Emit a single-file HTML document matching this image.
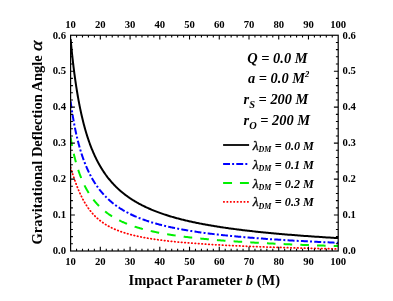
<!DOCTYPE html>
<html><head><meta charset="utf-8"><title>plot</title>
<style>
html,body{margin:0;padding:0;background:#fff;}
body{width:393px;height:301px;overflow:hidden;font-family:"Liberation Serif",serif;}
svg{display:block;will-change:transform;opacity:0.999;}
text{font-family:"Liberation Serif",serif;fill:#000;}
.tk{font-size:10.7px;font-weight:bold;}
.ax{font-size:14.5px;font-weight:bold;}
.an{font-size:14.4px;font-weight:bold;font-style:italic;}
.lg{font-size:12.2px;font-weight:bold;font-style:italic;}
</style></head><body>
<svg width="393" height="301" viewBox="0 0 393 301">
<rect width="393" height="301" fill="#fff"/>

<defs><clipPath id="cp"><rect x="70.60" y="35.25" width="267.60" height="215.75"/></clipPath></defs>
<g fill="none" stroke-width="2.0" stroke-linejoin="round" clip-path="url(#cp)">
<path d="M70.60 39.09 L70.77 40.94 L70.94 42.78 L71.12 44.59 L71.29 46.38 L71.47 48.14 L71.64 49.89 L71.82 51.61 L72.00 53.32 L72.18 55.00 L72.36 56.67 L72.54 58.32 L72.73 59.94 L72.91 61.55 L73.10 63.14 L73.28 64.71 L73.47 66.27 L73.66 67.80 L73.85 69.32 L74.04 70.83 L74.23 72.31 L74.42 73.78 L74.61 75.23 L74.81 76.67 L75.01 78.09 L75.20 79.50 L75.40 80.89 L75.60 82.26 L75.80 83.63 L76.00 84.97 L76.20 86.31 L76.41 87.62 L76.61 88.93 L76.82 90.22 L77.03 91.50 L77.24 92.76 L77.45 94.01 L77.66 95.25 L77.87 96.48 L78.08 97.69 L78.30 98.89 L78.51 100.08 L78.73 101.25 L78.95 102.42 L79.17 103.57 L79.39 104.71 L79.61 105.84 L79.84 106.96 L80.06 108.07 L80.29 109.17 L80.52 110.25 L80.75 111.33 L80.98 112.39 L81.21 113.45 L81.44 114.49 L81.67 115.53 L81.91 116.55 L82.15 117.57 L82.39 118.58 L82.63 119.57 L82.87 120.56 L83.11 121.54 L83.35 122.50 L83.60 123.46 L83.84 124.41 L84.09 125.35 L84.34 126.29 L84.59 127.21 L84.85 128.13 L85.10 129.03 L85.35 129.93 L85.61 130.82 L85.87 131.71 L86.13 132.58 L86.39 133.45 L86.65 134.31 L86.92 135.16 L87.18 136.00 L87.45 136.84 L87.72 137.67 L87.99 138.49 L88.26 139.31 L88.54 140.11 L88.81 140.91 L89.09 141.71 L89.37 142.49 L89.65 143.27 L89.93 144.04 L90.21 144.81 L90.50 145.57 L90.78 146.32 L91.07 147.07 L91.36 147.81 L91.65 148.54 L91.95 149.27 L92.24 149.99 L92.54 150.71 L92.84 151.42 L93.14 152.12 L93.44 152.82 L93.74 153.51 L94.05 154.20 L94.35 154.88 L94.66 155.55 L94.97 156.22 L95.28 156.88 L95.60 157.54 L95.91 158.19 L96.23 158.84 L96.55 159.48 L96.87 160.12 L97.20 160.75 L97.52 161.38 L97.85 162.00 L98.18 162.61 L98.51 163.23 L98.84 163.83 L99.18 164.43 L99.51 165.03 L99.85 165.62 L100.19 166.21 L100.53 166.79 L100.88 167.37 L101.23 167.94 L101.57 168.51 L101.92 169.08 L102.28 169.64 L102.63 170.19 L102.99 170.74 L103.35 171.29 L103.71 171.83 L104.07 172.37 L104.44 172.91 L104.80 173.44 L105.17 173.96 L105.54 174.49 L105.92 175.00 L106.29 175.52 L106.67 176.03 L107.05 176.53 L107.43 177.04 L107.82 177.53 L108.20 178.03 L108.59 178.52 L108.98 179.01 L109.38 179.49 L109.77 179.97 L110.17 180.45 L110.57 180.92 L110.97 181.39 L111.38 181.86 L111.78 182.32 L112.19 182.78 L112.60 183.23 L113.02 183.68 L113.43 184.13 L113.85 184.58 L114.27 185.02 L114.70 185.46 L115.12 185.89 L115.55 186.33 L115.98 186.76 L116.42 187.18 L116.85 187.60 L117.29 188.02 L117.73 188.44 L118.18 188.85 L118.62 189.27 L119.07 189.67 L119.52 190.08 L119.98 190.48 L120.44 190.88 L120.89 191.27 L121.36 191.67 L121.82 192.06 L122.29 192.45 L122.76 192.83 L123.23 193.21 L123.71 193.59 L124.19 193.97 L124.67 194.34 L125.15 194.71 L125.64 195.08 L126.13 195.45 L126.62 195.81 L127.11 196.17 L127.61 196.53 L128.11 196.89 L128.62 197.24 L129.12 197.59 L129.63 197.94 L130.14 198.29 L130.66 198.63 L131.18 198.97 L131.70 199.31 L132.22 199.65 L132.75 199.98 L133.28 200.31 L133.82 200.64 L134.35 200.97 L134.89 201.30 L135.43 201.62 L135.98 201.94 L136.53 202.26 L137.08 202.57 L137.64 202.89 L138.20 203.20 L138.76 203.51 L139.32 203.82 L139.89 204.12 L140.46 204.43 L141.04 204.73 L141.62 205.03 L142.20 205.33 L142.78 205.62 L143.37 205.92 L143.96 206.21 L144.56 206.50 L145.16 206.78 L145.76 207.07 L146.36 207.35 L146.97 207.64 L147.59 207.92 L148.20 208.19 L148.82 208.47 L149.45 208.74 L150.07 209.02 L150.70 209.29 L151.34 209.56 L151.97 209.82 L152.62 210.09 L153.26 210.35 L153.91 210.62 L154.56 210.88 L155.22 211.13 L155.88 211.39 L156.54 211.65 L157.21 211.90 L157.88 212.15 L158.56 212.40 L159.24 212.65 L159.92 212.90 L160.61 213.14 L161.30 213.39 L161.99 213.63 L162.69 213.87 L163.40 214.11 L164.10 214.35 L164.82 214.58 L165.53 214.82 L166.25 215.05 L166.97 215.28 L167.70 215.51 L168.44 215.74 L169.17 215.97 L169.91 216.19 L170.66 216.42 L171.41 216.64 L172.16 216.86 L172.92 217.08 L173.68 217.30 L174.45 217.52 L175.22 217.73 L175.99 217.95 L176.77 218.16 L177.56 218.37 L178.35 218.58 L179.14 218.79 L179.94 219.00 L180.74 219.21 L181.55 219.41 L182.36 219.62 L183.18 219.82 L184.00 220.02 L184.83 220.22 L185.66 220.42 L186.49 220.62 L187.33 220.82 L188.18 221.01 L189.03 221.21 L189.89 221.40 L190.75 221.59 L191.61 221.78 L192.48 221.97 L193.36 222.16 L194.24 222.35 L195.12 222.53 L196.01 222.72 L196.91 222.90 L197.81 223.08 L198.72 223.26 L199.63 223.45 L200.54 223.62 L201.47 223.80 L202.39 223.98 L203.33 224.16 L204.26 224.33 L205.21 224.51 L206.16 224.68 L207.11 224.85 L208.07 225.02 L209.03 225.19 L210.01 225.36 L210.98 225.53 L211.96 225.70 L212.95 225.86 L213.95 226.03 L214.94 226.19 L215.95 226.35 L216.96 226.52 L217.98 226.68 L219.00 226.84 L220.03 227.00 L221.06 227.16 L222.10 227.31 L223.15 227.47 L224.20 227.63 L225.26 227.78 L226.32 227.93 L227.39 228.09 L228.47 228.24 L229.55 228.39 L230.64 228.54 L231.74 228.69 L232.84 228.84 L233.95 228.99 L235.06 229.13 L236.19 229.28 L237.31 229.43 L238.45 229.57 L239.59 229.71 L240.73 229.86 L241.89 230.00 L243.05 230.14 L244.22 230.28 L245.39 230.42 L246.57 230.56 L247.76 230.70 L248.95 230.83 L250.15 230.97 L251.36 231.11 L252.58 231.24 L253.80 231.38 L255.03 231.51 L256.27 231.64 L257.51 231.78 L258.76 231.91 L260.02 232.04 L261.28 232.17 L262.56 232.30 L263.84 232.43 L265.12 232.56 L266.42 232.68 L267.72 232.81 L269.03 232.94 L270.35 233.06 L271.67 233.19 L273.00 233.31 L274.34 233.43 L275.69 233.56 L277.05 233.68 L278.41 233.80 L279.78 233.92 L281.16 234.04 L282.55 234.16 L283.94 234.28 L285.35 234.40 L286.76 234.52 L288.18 234.63 L289.61 234.75 L291.04 234.87 L292.49 234.98 L293.94 235.10 L295.40 235.21 L296.87 235.33 L298.35 235.44 L299.83 235.55 L301.33 235.66 L302.83 235.77 L304.34 235.89 L305.87 236.00 L307.40 236.11 L308.93 236.22 L310.48 236.33 L312.04 236.43 L313.60 236.54 L315.18 236.65 L316.76 236.76 L318.35 236.86 L319.96 236.97 L321.57 237.07 L323.19 237.18 L324.82 237.28 L326.46 237.39 L328.11 237.49 L329.76 237.59 L331.43 237.70 L333.11 237.80 L334.80 237.90 L336.49 238.00 L338.20 238.10" stroke="#000000"/>
<path d="M70.60 101.30 L70.77 102.58 L70.94 103.85 L71.12 105.10 L71.29 106.33 L71.47 107.55 L71.64 108.76 L71.82 109.95 L72.00 111.12 L72.18 112.29 L72.36 113.43 L72.54 114.57 L72.73 115.69 L72.91 116.80 L73.10 117.90 L73.28 118.98 L73.47 120.05 L73.66 121.11 L73.85 122.16 L74.04 123.19 L74.23 124.21 L74.42 125.23 L74.61 126.23 L74.81 127.22 L75.01 128.20 L75.20 129.17 L75.40 130.13 L75.60 131.08 L75.80 132.02 L76.00 132.95 L76.20 133.87 L76.41 134.78 L76.61 135.68 L76.82 136.58 L77.03 137.46 L77.24 138.34 L77.45 139.20 L77.66 140.06 L77.87 140.91 L78.08 141.75 L78.30 142.59 L78.51 143.41 L78.73 144.23 L78.95 145.04 L79.17 145.84 L79.39 146.63 L79.61 147.42 L79.84 148.20 L80.06 148.97 L80.29 149.74 L80.52 150.50 L80.75 151.25 L80.98 151.99 L81.21 152.73 L81.44 153.46 L81.67 154.19 L81.91 154.91 L82.15 155.62 L82.39 156.32 L82.63 157.02 L82.87 157.72 L83.11 158.41 L83.35 159.09 L83.60 159.76 L83.84 160.43 L84.09 161.10 L84.34 161.76 L84.59 162.41 L84.85 163.06 L85.10 163.70 L85.35 164.34 L85.61 164.97 L85.87 165.59 L86.13 166.21 L86.39 166.83 L86.65 167.44 L86.92 168.05 L87.18 168.65 L87.45 169.24 L87.72 169.83 L87.99 170.42 L88.26 171.00 L88.54 171.58 L88.81 172.15 L89.09 172.72 L89.37 173.28 L89.65 173.84 L89.93 174.39 L90.21 174.94 L90.50 175.49 L90.78 176.03 L91.07 176.57 L91.36 177.10 L91.65 177.63 L91.95 178.15 L92.24 178.67 L92.54 179.19 L92.84 179.70 L93.14 180.21 L93.44 180.71 L93.74 181.21 L94.05 181.71 L94.35 182.20 L94.66 182.69 L94.97 183.17 L95.28 183.66 L95.60 184.13 L95.91 184.61 L96.23 185.08 L96.55 185.54 L96.87 186.01 L97.20 186.47 L97.52 186.92 L97.85 187.37 L98.18 187.82 L98.51 188.27 L98.84 188.71 L99.18 189.15 L99.51 189.59 L99.85 190.02 L100.19 190.45 L100.53 190.87 L100.88 191.30 L101.23 191.72 L101.57 192.13 L101.92 192.54 L102.28 192.95 L102.63 193.36 L102.99 193.77 L103.35 194.17 L103.71 194.56 L104.07 194.96 L104.44 195.35 L104.80 195.74 L105.17 196.13 L105.54 196.51 L105.92 196.89 L106.29 197.27 L106.67 197.64 L107.05 198.01 L107.43 198.38 L107.82 198.75 L108.20 199.11 L108.59 199.47 L108.98 199.83 L109.38 200.19 L109.77 200.54 L110.17 200.89 L110.57 201.24 L110.97 201.58 L111.38 201.93 L111.78 202.27 L112.19 202.60 L112.60 202.94 L113.02 203.27 L113.43 203.60 L113.85 203.93 L114.27 204.25 L114.70 204.58 L115.12 204.90 L115.55 205.22 L115.98 205.53 L116.42 205.85 L116.85 206.16 L117.29 206.47 L117.73 206.77 L118.18 207.08 L118.62 207.38 L119.07 207.68 L119.52 207.98 L119.98 208.27 L120.44 208.57 L120.89 208.86 L121.36 209.15 L121.82 209.43 L122.29 209.72 L122.76 210.00 L123.23 210.28 L123.71 210.56 L124.19 210.84 L124.67 211.11 L125.15 211.39 L125.64 211.66 L126.13 211.93 L126.62 212.19 L127.11 212.46 L127.61 212.72 L128.11 212.98 L128.62 213.24 L129.12 213.50 L129.63 213.76 L130.14 214.01 L130.66 214.26 L131.18 214.51 L131.70 214.76 L132.22 215.01 L132.75 215.25 L133.28 215.49 L133.82 215.74 L134.35 215.98 L134.89 216.21 L135.43 216.45 L135.98 216.68 L136.53 216.92 L137.08 217.15 L137.64 217.38 L138.20 217.61 L138.76 217.83 L139.32 218.06 L139.89 218.28 L140.46 218.50 L141.04 218.72 L141.62 218.94 L142.20 219.16 L142.78 219.37 L143.37 219.59 L143.96 219.80 L144.56 220.01 L145.16 220.22 L145.76 220.43 L146.36 220.64 L146.97 220.84 L147.59 221.05 L148.20 221.25 L148.82 221.45 L149.45 221.65 L150.07 221.85 L150.70 222.04 L151.34 222.24 L151.97 222.43 L152.62 222.63 L153.26 222.82 L153.91 223.01 L154.56 223.20 L155.22 223.39 L155.88 223.57 L156.54 223.76 L157.21 223.94 L157.88 224.12 L158.56 224.30 L159.24 224.49 L159.92 224.66 L160.61 224.84 L161.30 225.02 L161.99 225.19 L162.69 225.37 L163.40 225.54 L164.10 225.71 L164.82 225.88 L165.53 226.05 L166.25 226.22 L166.97 226.39 L167.70 226.56 L168.44 226.72 L169.17 226.88 L169.91 227.05 L170.66 227.21 L171.41 227.37 L172.16 227.53 L172.92 227.69 L173.68 227.85 L174.45 228.00 L175.22 228.16 L175.99 228.31 L176.77 228.47 L177.56 228.62 L178.35 228.77 L179.14 228.92 L179.94 229.07 L180.74 229.22 L181.55 229.37 L182.36 229.52 L183.18 229.66 L184.00 229.81 L184.83 229.95 L185.66 230.09 L186.49 230.24 L187.33 230.38 L188.18 230.52 L189.03 230.66 L189.89 230.80 L190.75 230.94 L191.61 231.07 L192.48 231.21 L193.36 231.34 L194.24 231.48 L195.12 231.61 L196.01 231.74 L196.91 231.88 L197.81 232.01 L198.72 232.14 L199.63 232.27 L200.54 232.40 L201.47 232.52 L202.39 232.65 L203.33 232.78 L204.26 232.90 L205.21 233.03 L206.16 233.15 L207.11 233.28 L208.07 233.40 L209.03 233.52 L210.01 233.64 L210.98 233.76 L211.96 233.88 L212.95 234.00 L213.95 234.12 L214.94 234.24 L215.95 234.35 L216.96 234.47 L217.98 234.59 L219.00 234.70 L220.03 234.81 L221.06 234.93 L222.10 235.04 L223.15 235.15 L224.20 235.26 L225.26 235.38 L226.32 235.49 L227.39 235.60 L228.47 235.70 L229.55 235.81 L230.64 235.92 L231.74 236.03 L232.84 236.13 L233.95 236.24 L235.06 236.35 L236.19 236.45 L237.31 236.55 L238.45 236.66 L239.59 236.76 L240.73 236.86 L241.89 236.97 L243.05 237.07 L244.22 237.17 L245.39 237.27 L246.57 237.37 L247.76 237.47 L248.95 237.57 L250.15 237.66 L251.36 237.76 L252.58 237.86 L253.80 237.95 L255.03 238.05 L256.27 238.15 L257.51 238.24 L258.76 238.34 L260.02 238.43 L261.28 238.52 L262.56 238.62 L263.84 238.71 L265.12 238.80 L266.42 238.89 L267.72 238.98 L269.03 239.07 L270.35 239.16 L271.67 239.25 L273.00 239.34 L274.34 239.43 L275.69 239.52 L277.05 239.61 L278.41 239.70 L279.78 239.78 L281.16 239.87 L282.55 239.96 L283.94 240.04 L285.35 240.13 L286.76 240.21 L288.18 240.30 L289.61 240.38 L291.04 240.46 L292.49 240.55 L293.94 240.63 L295.40 240.71 L296.87 240.80 L298.35 240.88 L299.83 240.96 L301.33 241.04 L302.83 241.12 L304.34 241.20 L305.87 241.28 L307.40 241.36 L308.93 241.44 L310.48 241.52 L312.04 241.60 L313.60 241.68 L315.18 241.76 L316.76 241.83 L318.35 241.91 L319.96 241.99 L321.57 242.06 L323.19 242.14 L324.82 242.22 L326.46 242.29 L328.11 242.37 L329.76 242.44 L331.43 242.52 L333.11 242.59 L334.80 242.67 L336.49 242.74 L338.20 242.81" stroke="#0000ff" stroke-dasharray="6.98 2.18 1.97 2.23"/>
<path d="M70.60 137.43 L70.77 138.47 L70.94 139.48 L71.12 140.49 L71.29 141.48 L71.47 142.46 L71.64 143.42 L71.82 144.37 L72.00 145.31 L72.18 146.24 L72.36 147.15 L72.54 148.06 L72.73 148.95 L72.91 149.83 L73.10 150.70 L73.28 151.56 L73.47 152.41 L73.66 153.25 L73.85 154.08 L74.04 154.90 L74.23 155.71 L74.42 156.51 L74.61 157.30 L74.81 158.08 L75.01 158.85 L75.20 159.62 L75.40 160.37 L75.60 161.12 L75.80 161.86 L76.00 162.59 L76.20 163.31 L76.41 164.03 L76.61 164.73 L76.82 165.43 L77.03 166.13 L77.24 166.81 L77.45 167.49 L77.66 168.16 L77.87 168.83 L78.08 169.48 L78.30 170.13 L78.51 170.78 L78.73 171.42 L78.95 172.05 L79.17 172.67 L79.39 173.29 L79.61 173.91 L79.84 174.51 L80.06 175.11 L80.29 175.71 L80.52 176.30 L80.75 176.89 L80.98 177.46 L81.21 178.04 L81.44 178.61 L81.67 179.17 L81.91 179.73 L82.15 180.28 L82.39 180.83 L82.63 181.37 L82.87 181.91 L83.11 182.44 L83.35 182.97 L83.60 183.50 L83.84 184.01 L84.09 184.53 L84.34 185.04 L84.59 185.55 L84.85 186.05 L85.10 186.54 L85.35 187.04 L85.61 187.53 L85.87 188.01 L86.13 188.49 L86.39 188.97 L86.65 189.44 L86.92 189.91 L87.18 190.37 L87.45 190.83 L87.72 191.29 L87.99 191.74 L88.26 192.19 L88.54 192.64 L88.81 193.08 L89.09 193.51 L89.37 193.95 L89.65 194.38 L89.93 194.81 L90.21 195.23 L90.50 195.65 L90.78 196.07 L91.07 196.48 L91.36 196.89 L91.65 197.30 L91.95 197.70 L92.24 198.11 L92.54 198.50 L92.84 198.90 L93.14 199.29 L93.44 199.68 L93.74 200.06 L94.05 200.44 L94.35 200.82 L94.66 201.20 L94.97 201.57 L95.28 201.94 L95.60 202.31 L95.91 202.67 L96.23 203.03 L96.55 203.39 L96.87 203.75 L97.20 204.10 L97.52 204.45 L97.85 204.80 L98.18 205.14 L98.51 205.48 L98.84 205.82 L99.18 206.16 L99.51 206.49 L99.85 206.83 L100.19 207.15 L100.53 207.48 L100.88 207.81 L101.23 208.13 L101.57 208.44 L101.92 208.76 L102.28 209.07 L102.63 209.39 L102.99 209.70 L103.35 210.00 L103.71 210.31 L104.07 210.61 L104.44 210.91 L104.80 211.20 L105.17 211.50 L105.54 211.79 L105.92 212.08 L106.29 212.37 L106.67 212.66 L107.05 212.94 L107.43 213.22 L107.82 213.50 L108.20 213.78 L108.59 214.05 L108.98 214.33 L109.38 214.60 L109.77 214.86 L110.17 215.13 L110.57 215.40 L110.97 215.66 L111.38 215.92 L111.78 216.18 L112.19 216.43 L112.60 216.69 L113.02 216.94 L113.43 217.19 L113.85 217.44 L114.27 217.69 L114.70 217.93 L115.12 218.17 L115.55 218.41 L115.98 218.65 L116.42 218.89 L116.85 219.13 L117.29 219.36 L117.73 219.59 L118.18 219.82 L118.62 220.05 L119.07 220.28 L119.52 220.50 L119.98 220.72 L120.44 220.95 L120.89 221.17 L121.36 221.38 L121.82 221.60 L122.29 221.81 L122.76 222.03 L123.23 222.24 L123.71 222.45 L124.19 222.66 L124.67 222.86 L125.15 223.07 L125.64 223.27 L126.13 223.47 L126.62 223.67 L127.11 223.87 L127.61 224.07 L128.11 224.27 L128.62 224.46 L129.12 224.65 L129.63 224.84 L130.14 225.03 L130.66 225.22 L131.18 225.41 L131.70 225.59 L132.22 225.78 L132.75 225.96 L133.28 226.14 L133.82 226.32 L134.35 226.50 L134.89 226.68 L135.43 226.86 L135.98 227.03 L136.53 227.20 L137.08 227.38 L137.64 227.55 L138.20 227.72 L138.76 227.88 L139.32 228.05 L139.89 228.22 L140.46 228.38 L141.04 228.55 L141.62 228.71 L142.20 228.87 L142.78 229.03 L143.37 229.19 L143.96 229.34 L144.56 229.50 L145.16 229.66 L145.76 229.81 L146.36 229.96 L146.97 230.11 L147.59 230.26 L148.20 230.41 L148.82 230.56 L149.45 230.71 L150.07 230.86 L150.70 231.00 L151.34 231.14 L151.97 231.29 L152.62 231.43 L153.26 231.57 L153.91 231.71 L154.56 231.85 L155.22 231.99 L155.88 232.12 L156.54 232.26 L157.21 232.40 L157.88 232.53 L158.56 232.66 L159.24 232.80 L159.92 232.93 L160.61 233.06 L161.30 233.19 L161.99 233.31 L162.69 233.44 L163.40 233.57 L164.10 233.69 L164.82 233.82 L165.53 233.94 L166.25 234.07 L166.97 234.19 L167.70 234.31 L168.44 234.43 L169.17 234.55 L169.91 234.67 L170.66 234.79 L171.41 234.91 L172.16 235.02 L172.92 235.14 L173.68 235.25 L174.45 235.37 L175.22 235.48 L175.99 235.59 L176.77 235.71 L177.56 235.82 L178.35 235.93 L179.14 236.04 L179.94 236.15 L180.74 236.25 L181.55 236.36 L182.36 236.47 L183.18 236.57 L184.00 236.68 L184.83 236.78 L185.66 236.89 L186.49 236.99 L187.33 237.09 L188.18 237.20 L189.03 237.30 L189.89 237.40 L190.75 237.50 L191.61 237.60 L192.48 237.70 L193.36 237.79 L194.24 237.89 L195.12 237.99 L196.01 238.08 L196.91 238.18 L197.81 238.28 L198.72 238.37 L199.63 238.46 L200.54 238.56 L201.47 238.65 L202.39 238.74 L203.33 238.83 L204.26 238.92 L205.21 239.01 L206.16 239.10 L207.11 239.19 L208.07 239.28 L209.03 239.37 L210.01 239.46 L210.98 239.54 L211.96 239.63 L212.95 239.72 L213.95 239.80 L214.94 239.89 L215.95 239.97 L216.96 240.06 L217.98 240.14 L219.00 240.22 L220.03 240.30 L221.06 240.39 L222.10 240.47 L223.15 240.55 L224.20 240.63 L225.26 240.71 L226.32 240.79 L227.39 240.87 L228.47 240.95 L229.55 241.03 L230.64 241.10 L231.74 241.18 L232.84 241.26 L233.95 241.33 L235.06 241.41 L236.19 241.49 L237.31 241.56 L238.45 241.64 L239.59 241.71 L240.73 241.79 L241.89 241.86 L243.05 241.93 L244.22 242.01 L245.39 242.08 L246.57 242.15 L247.76 242.22 L248.95 242.29 L250.15 242.36 L251.36 242.43 L252.58 242.50 L253.80 242.57 L255.03 242.64 L256.27 242.71 L257.51 242.78 L258.76 242.85 L260.02 242.92 L261.28 242.99 L262.56 243.05 L263.84 243.12 L265.12 243.19 L266.42 243.25 L267.72 243.32 L269.03 243.39 L270.35 243.45 L271.67 243.52 L273.00 243.58 L274.34 243.65 L275.69 243.71 L277.05 243.77 L278.41 243.84 L279.78 243.90 L281.16 243.96 L282.55 244.03 L283.94 244.09 L285.35 244.15 L286.76 244.21 L288.18 244.27 L289.61 244.34 L291.04 244.40 L292.49 244.46 L293.94 244.52 L295.40 244.58 L296.87 244.64 L298.35 244.70 L299.83 244.76 L301.33 244.82 L302.83 244.88 L304.34 244.94 L305.87 244.99 L307.40 245.05 L308.93 245.11 L310.48 245.17 L312.04 245.23 L313.60 245.28 L315.18 245.34 L316.76 245.40 L318.35 245.45 L319.96 245.51 L321.57 245.57 L323.19 245.62 L324.82 245.68 L326.46 245.74 L328.11 245.79 L329.76 245.85 L331.43 245.90 L333.11 245.96 L334.80 246.01 L336.49 246.07 L338.20 246.12" stroke="#00f000" stroke-dasharray="8.6 8.11"/>
<path d="M70.60 167.46 L70.77 168.02 L70.94 168.58 L71.12 169.14 L71.29 169.70 L71.47 170.26 L71.64 170.82 L71.82 171.39 L72.00 171.95 L72.18 172.51 L72.36 173.07 L72.54 173.63 L72.73 174.20 L72.91 174.76 L73.10 175.32 L73.28 175.88 L73.47 176.44 L73.66 177.00 L73.85 177.56 L74.04 178.12 L74.23 178.67 L74.42 179.23 L74.61 179.78 L74.81 180.33 L75.01 180.89 L75.20 181.44 L75.40 181.98 L75.60 182.53 L75.80 183.08 L76.00 183.62 L76.20 184.16 L76.41 184.70 L76.61 185.24 L76.82 185.77 L77.03 186.30 L77.24 186.84 L77.45 187.36 L77.66 187.89 L77.87 188.41 L78.08 188.93 L78.30 189.45 L78.51 189.97 L78.73 190.48 L78.95 190.99 L79.17 191.50 L79.39 192.01 L79.61 192.51 L79.84 193.01 L80.06 193.50 L80.29 194.00 L80.52 194.49 L80.75 194.97 L80.98 195.46 L81.21 195.94 L81.44 196.42 L81.67 196.89 L81.91 197.36 L82.15 197.83 L82.39 198.30 L82.63 198.76 L82.87 199.22 L83.11 199.67 L83.35 200.12 L83.60 200.57 L83.84 201.02 L84.09 201.46 L84.34 201.90 L84.59 202.33 L84.85 202.76 L85.10 203.19 L85.35 203.62 L85.61 204.04 L85.87 204.46 L86.13 204.87 L86.39 205.28 L86.65 205.69 L86.92 206.10 L87.18 206.50 L87.45 206.89 L87.72 207.29 L87.99 207.68 L88.26 208.07 L88.54 208.45 L88.81 208.83 L89.09 209.21 L89.37 209.58 L89.65 209.95 L89.93 210.32 L90.21 210.69 L90.50 211.05 L90.78 211.40 L91.07 211.76 L91.36 212.11 L91.65 212.46 L91.95 212.80 L92.24 213.14 L92.54 213.48 L92.84 213.82 L93.14 214.15 L93.44 214.48 L93.74 214.80 L94.05 215.13 L94.35 215.45 L94.66 215.76 L94.97 216.08 L95.28 216.39 L95.60 216.70 L95.91 217.00 L96.23 217.30 L96.55 217.60 L96.87 217.90 L97.20 218.19 L97.52 218.48 L97.85 218.77 L98.18 219.05 L98.51 219.33 L98.84 219.61 L99.18 219.89 L99.51 220.16 L99.85 220.44 L100.19 220.70 L100.53 220.97 L100.88 221.23 L101.23 221.50 L101.57 221.75 L101.92 222.01 L102.28 222.26 L102.63 222.51 L102.99 222.76 L103.35 223.01 L103.71 223.25 L104.07 223.49 L104.44 223.73 L104.80 223.97 L105.17 224.20 L105.54 224.43 L105.92 224.66 L106.29 224.89 L106.67 225.12 L107.05 225.34 L107.43 225.56 L107.82 225.78 L108.20 226.00 L108.59 226.21 L108.98 226.42 L109.38 226.63 L109.77 226.84 L110.17 227.05 L110.57 227.25 L110.97 227.46 L111.38 227.66 L111.78 227.86 L112.19 228.05 L112.60 228.25 L113.02 228.44 L113.43 228.63 L113.85 228.82 L114.27 229.01 L114.70 229.20 L115.12 229.38 L115.55 229.56 L115.98 229.74 L116.42 229.92 L116.85 230.10 L117.29 230.27 L117.73 230.45 L118.18 230.62 L118.62 230.79 L119.07 230.96 L119.52 231.13 L119.98 231.30 L120.44 231.46 L120.89 231.62 L121.36 231.78 L121.82 231.94 L122.29 232.10 L122.76 232.26 L123.23 232.42 L123.71 232.57 L124.19 232.72 L124.67 232.87 L125.15 233.02 L125.64 233.17 L126.13 233.32 L126.62 233.47 L127.11 233.61 L127.61 233.76 L128.11 233.90 L128.62 234.04 L129.12 234.18 L129.63 234.32 L130.14 234.45 L130.66 234.59 L131.18 234.73 L131.70 234.86 L132.22 234.99 L132.75 235.12 L133.28 235.25 L133.82 235.38 L134.35 235.51 L134.89 235.64 L135.43 235.76 L135.98 235.89 L136.53 236.01 L137.08 236.13 L137.64 236.26 L138.20 236.38 L138.76 236.49 L139.32 236.61 L139.89 236.73 L140.46 236.85 L141.04 236.96 L141.62 237.08 L142.20 237.19 L142.78 237.30 L143.37 237.41 L143.96 237.53 L144.56 237.64 L145.16 237.74 L145.76 237.85 L146.36 237.96 L146.97 238.07 L147.59 238.17 L148.20 238.28 L148.82 238.38 L149.45 238.48 L150.07 238.58 L150.70 238.68 L151.34 238.79 L151.97 238.88 L152.62 238.98 L153.26 239.08 L153.91 239.18 L154.56 239.27 L155.22 239.37 L155.88 239.47 L156.54 239.56 L157.21 239.65 L157.88 239.75 L158.56 239.84 L159.24 239.93 L159.92 240.02 L160.61 240.11 L161.30 240.20 L161.99 240.29 L162.69 240.37 L163.40 240.46 L164.10 240.55 L164.82 240.63 L165.53 240.72 L166.25 240.80 L166.97 240.89 L167.70 240.97 L168.44 241.05 L169.17 241.13 L169.91 241.21 L170.66 241.30 L171.41 241.38 L172.16 241.45 L172.92 241.53 L173.68 241.61 L174.45 241.69 L175.22 241.77 L175.99 241.84 L176.77 241.92 L177.56 242.00 L178.35 242.07 L179.14 242.14 L179.94 242.22 L180.74 242.29 L181.55 242.36 L182.36 242.44 L183.18 242.51 L184.00 242.58 L184.83 242.65 L185.66 242.72 L186.49 242.79 L187.33 242.86 L188.18 242.93 L189.03 243.00 L189.89 243.07 L190.75 243.13 L191.61 243.20 L192.48 243.27 L193.36 243.33 L194.24 243.40 L195.12 243.46 L196.01 243.53 L196.91 243.59 L197.81 243.66 L198.72 243.72 L199.63 243.78 L200.54 243.85 L201.47 243.91 L202.39 243.97 L203.33 244.03 L204.26 244.09 L205.21 244.15 L206.16 244.21 L207.11 244.27 L208.07 244.33 L209.03 244.39 L210.01 244.45 L210.98 244.51 L211.96 244.57 L212.95 244.62 L213.95 244.68 L214.94 244.74 L215.95 244.80 L216.96 244.85 L217.98 244.91 L219.00 244.96 L220.03 245.02 L221.06 245.07 L222.10 245.13 L223.15 245.18 L224.20 245.24 L225.26 245.29 L226.32 245.34 L227.39 245.40 L228.47 245.45 L229.55 245.50 L230.64 245.55 L231.74 245.61 L232.84 245.66 L233.95 245.71 L235.06 245.76 L236.19 245.81 L237.31 245.86 L238.45 245.91 L239.59 245.96 L240.73 246.01 L241.89 246.06 L243.05 246.11 L244.22 246.16 L245.39 246.21 L246.57 246.26 L247.76 246.30 L248.95 246.35 L250.15 246.40 L251.36 246.45 L252.58 246.49 L253.80 246.54 L255.03 246.59 L256.27 246.63 L257.51 246.68 L258.76 246.73 L260.02 246.77 L261.28 246.82 L262.56 246.86 L263.84 246.91 L265.12 246.95 L266.42 247.00 L267.72 247.04 L269.03 247.09 L270.35 247.13 L271.67 247.18 L273.00 247.22 L274.34 247.26 L275.69 247.31 L277.05 247.35 L278.41 247.39 L279.78 247.44 L281.16 247.48 L282.55 247.52 L283.94 247.56 L285.35 247.61 L286.76 247.65 L288.18 247.69 L289.61 247.73 L291.04 247.77 L292.49 247.81 L293.94 247.86 L295.40 247.90 L296.87 247.94 L298.35 247.98 L299.83 248.02 L301.33 248.06 L302.83 248.10 L304.34 248.14 L305.87 248.18 L307.40 248.22 L308.93 248.26 L310.48 248.30 L312.04 248.34 L313.60 248.38 L315.18 248.42 L316.76 248.46 L318.35 248.50 L319.96 248.54 L321.57 248.58 L323.19 248.62 L324.82 248.66 L326.46 248.69 L328.11 248.73 L329.76 248.77 L331.43 248.81 L333.11 248.85 L334.80 248.89 L336.49 248.93 L338.20 248.96" stroke="#ff0000" stroke-dasharray="0.5 2.92" stroke-width="1.75" stroke-linecap="round"/>
</g>
<rect x="70.60" y="35.25" width="267.60" height="215.75" fill="none" stroke="#000" stroke-width="1.2"/>
<path d="M76.55 251.00 v-2.30 M76.55 35.25 v2.30 M82.49 251.00 v-2.30 M82.49 35.25 v2.30 M88.44 251.00 v-2.30 M88.44 35.25 v2.30 M94.39 251.00 v-2.30 M94.39 35.25 v2.30 M100.33 251.00 v-4.30 M100.33 35.25 v4.30 M106.28 251.00 v-2.30 M106.28 35.25 v2.30 M112.23 251.00 v-2.30 M112.23 35.25 v2.30 M118.17 251.00 v-2.30 M118.17 35.25 v2.30 M124.12 251.00 v-2.30 M124.12 35.25 v2.30 M130.07 251.00 v-4.30 M130.07 35.25 v4.30 M136.01 251.00 v-2.30 M136.01 35.25 v2.30 M141.96 251.00 v-2.30 M141.96 35.25 v2.30 M147.91 251.00 v-2.30 M147.91 35.25 v2.30 M153.85 251.00 v-2.30 M153.85 35.25 v2.30 M159.80 251.00 v-4.30 M159.80 35.25 v4.30 M165.75 251.00 v-2.30 M165.75 35.25 v2.30 M171.69 251.00 v-2.30 M171.69 35.25 v2.30 M177.64 251.00 v-2.30 M177.64 35.25 v2.30 M183.59 251.00 v-2.30 M183.59 35.25 v2.30 M189.53 251.00 v-4.30 M189.53 35.25 v4.30 M195.48 251.00 v-2.30 M195.48 35.25 v2.30 M201.43 251.00 v-2.30 M201.43 35.25 v2.30 M207.37 251.00 v-2.30 M207.37 35.25 v2.30 M213.32 251.00 v-2.30 M213.32 35.25 v2.30 M219.27 251.00 v-4.30 M219.27 35.25 v4.30 M225.21 251.00 v-2.30 M225.21 35.25 v2.30 M231.16 251.00 v-2.30 M231.16 35.25 v2.30 M237.11 251.00 v-2.30 M237.11 35.25 v2.30 M243.05 251.00 v-2.30 M243.05 35.25 v2.30 M249.00 251.00 v-4.30 M249.00 35.25 v4.30 M254.95 251.00 v-2.30 M254.95 35.25 v2.30 M260.89 251.00 v-2.30 M260.89 35.25 v2.30 M266.84 251.00 v-2.30 M266.84 35.25 v2.30 M272.79 251.00 v-2.30 M272.79 35.25 v2.30 M278.73 251.00 v-4.30 M278.73 35.25 v4.30 M284.68 251.00 v-2.30 M284.68 35.25 v2.30 M290.63 251.00 v-2.30 M290.63 35.25 v2.30 M296.57 251.00 v-2.30 M296.57 35.25 v2.30 M302.52 251.00 v-2.30 M302.52 35.25 v2.30 M308.47 251.00 v-4.30 M308.47 35.25 v4.30 M314.41 251.00 v-2.30 M314.41 35.25 v2.30 M320.36 251.00 v-2.30 M320.36 35.25 v2.30 M326.31 251.00 v-2.30 M326.31 35.25 v2.30 M332.25 251.00 v-2.30 M332.25 35.25 v2.30 M70.60 243.81 h2.30 M338.20 243.81 h-2.30 M70.60 236.62 h2.30 M338.20 236.62 h-2.30 M70.60 229.43 h2.30 M338.20 229.43 h-2.30 M70.60 222.23 h2.30 M338.20 222.23 h-2.30 M70.60 215.04 h4.30 M338.20 215.04 h-4.30 M70.60 207.85 h2.30 M338.20 207.85 h-2.30 M70.60 200.66 h2.30 M338.20 200.66 h-2.30 M70.60 193.47 h2.30 M338.20 193.47 h-2.30 M70.60 186.27 h2.30 M338.20 186.27 h-2.30 M70.60 179.08 h4.30 M338.20 179.08 h-4.30 M70.60 171.89 h2.30 M338.20 171.89 h-2.30 M70.60 164.70 h2.30 M338.20 164.70 h-2.30 M70.60 157.51 h2.30 M338.20 157.51 h-2.30 M70.60 150.32 h2.30 M338.20 150.32 h-2.30 M70.60 143.12 h4.30 M338.20 143.12 h-4.30 M70.60 135.93 h2.30 M338.20 135.93 h-2.30 M70.60 128.74 h2.30 M338.20 128.74 h-2.30 M70.60 121.55 h2.30 M338.20 121.55 h-2.30 M70.60 114.36 h2.30 M338.20 114.36 h-2.30 M70.60 107.17 h4.30 M338.20 107.17 h-4.30 M70.60 99.97 h2.30 M338.20 99.97 h-2.30 M70.60 92.78 h2.30 M338.20 92.78 h-2.30 M70.60 85.59 h2.30 M338.20 85.59 h-2.30 M70.60 78.40 h2.30 M338.20 78.40 h-2.30 M70.60 71.21 h4.30 M338.20 71.21 h-4.30 M70.60 64.02 h2.30 M338.20 64.02 h-2.30 M70.60 56.82 h2.30 M338.20 56.82 h-2.30 M70.60 49.63 h2.30 M338.20 49.63 h-2.30 M70.60 42.44 h2.30 M338.20 42.44 h-2.30" stroke="#000" stroke-width="1.1" fill="none"/>
<text class="tk" x="70.60" y="264.6" text-anchor="middle">10</text>
<text class="tk" x="70.60" y="27.8" text-anchor="middle">10</text>
<text class="tk" x="100.33" y="264.6" text-anchor="middle">20</text>
<text class="tk" x="100.33" y="27.8" text-anchor="middle">20</text>
<text class="tk" x="130.07" y="264.6" text-anchor="middle">30</text>
<text class="tk" x="130.07" y="27.8" text-anchor="middle">30</text>
<text class="tk" x="159.80" y="264.6" text-anchor="middle">40</text>
<text class="tk" x="159.80" y="27.8" text-anchor="middle">40</text>
<text class="tk" x="189.53" y="264.6" text-anchor="middle">50</text>
<text class="tk" x="189.53" y="27.8" text-anchor="middle">50</text>
<text class="tk" x="219.27" y="264.6" text-anchor="middle">60</text>
<text class="tk" x="219.27" y="27.8" text-anchor="middle">60</text>
<text class="tk" x="249.00" y="264.6" text-anchor="middle">70</text>
<text class="tk" x="249.00" y="27.8" text-anchor="middle">70</text>
<text class="tk" x="278.73" y="264.6" text-anchor="middle">80</text>
<text class="tk" x="278.73" y="27.8" text-anchor="middle">80</text>
<text class="tk" x="308.47" y="264.6" text-anchor="middle">90</text>
<text class="tk" x="308.47" y="27.8" text-anchor="middle">90</text>
<text class="tk" x="338.20" y="264.6" text-anchor="middle">100</text>
<text class="tk" x="338.20" y="27.8" text-anchor="middle">100</text>
<text class="tk" x="66.1" y="254.25" text-anchor="end">0.0</text>
<text class="tk" x="342.6" y="254.25" text-anchor="start">0.0</text>
<text class="tk" x="66.1" y="218.29" text-anchor="end">0.1</text>
<text class="tk" x="342.6" y="218.29" text-anchor="start">0.1</text>
<text class="tk" x="66.1" y="182.33" text-anchor="end">0.2</text>
<text class="tk" x="342.6" y="182.33" text-anchor="start">0.2</text>
<text class="tk" x="66.1" y="146.38" text-anchor="end">0.3</text>
<text class="tk" x="342.6" y="146.38" text-anchor="start">0.3</text>
<text class="tk" x="66.1" y="110.42" text-anchor="end">0.4</text>
<text class="tk" x="342.6" y="110.42" text-anchor="start">0.4</text>
<text class="tk" x="66.1" y="74.46" text-anchor="end">0.5</text>
<text class="tk" x="342.6" y="74.46" text-anchor="start">0.5</text>
<text class="tk" x="66.1" y="38.50" text-anchor="end">0.6</text>
<text class="tk" x="342.6" y="38.50" text-anchor="start">0.6</text>
<text class="ax" x="204.3" y="284.7" text-anchor="middle">Impact Parameter <tspan font-style="italic">b</tspan> (M)</text>
<text class="ax" transform="translate(42.4,244.5) rotate(-90)">Gravitational Deflection Angle</text>
<text transform="translate(42.3,51.1) rotate(-90) scale(1.2,1)" font-size="16.5px" font-style="italic" stroke="#000" stroke-width="0.35">α</text>
<text class="an" x="247.3" y="63.2">Q = 0.0 M</text>
<text class="an" x="248" y="83.2">a = 0.0 M<tspan font-size="8.6px" dy="-5.8">2</tspan></text>
<text class="an" x="243.6" y="103.7">r<tspan font-size="10.4px" dy="3.8">S</tspan><tspan dy="-3.8"> = 200 M</tspan></text>
<text class="an" x="243.6" y="124.7">r<tspan font-size="10.4px" dy="3.8">O</tspan><tspan dy="-3.8"> = 200 M</tspan></text>
<path d="M223.1 145.0 H249.1" stroke="#000000" stroke-width="1.8" fill="none"/>
<text class="lg" y="149.5"><tspan x="252.8" font-size="13.5px" font-weight="normal" stroke="#000" stroke-width="0.3">λ</tspan><tspan x="258.6" font-size="8px" dy="2.7">DM</tspan><tspan x="274.8" dy="-2.7">= 0.0 M</tspan></text>
<path d="M223.1 164.0 H249.1" stroke="#0000ff" stroke-width="1.8" fill="none" stroke-dasharray="6.9 2.15 1.95 2.2"/>
<text class="lg" y="168.5"><tspan x="252.8" font-size="13.5px" font-weight="normal" stroke="#000" stroke-width="0.3">λ</tspan><tspan x="258.6" font-size="8px" dy="2.7">DM</tspan><tspan x="274.8" dy="-2.7">= 0.1 M</tspan></text>
<path d="M223.1 183.0 H249.1" stroke="#00f000" stroke-width="1.8" fill="none" stroke-dasharray="8.95 7.9"/>
<text class="lg" y="187.5"><tspan x="252.8" font-size="13.5px" font-weight="normal" stroke="#000" stroke-width="0.3">λ</tspan><tspan x="258.6" font-size="8px" dy="2.7">DM</tspan><tspan x="274.8" dy="-2.7">= 0.2 M</tspan></text>
<path d="M223.1 201.9 H249.1" stroke="#ff0000" stroke-width="1.8" fill="none" stroke-dasharray="1.7 1.72"/>
<text class="lg" y="206.4"><tspan x="252.8" font-size="13.5px" font-weight="normal" stroke="#000" stroke-width="0.3">λ</tspan><tspan x="258.6" font-size="8px" dy="2.7">DM</tspan><tspan x="274.8" dy="-2.7">= 0.3 M</tspan></text>
</svg></body></html>
